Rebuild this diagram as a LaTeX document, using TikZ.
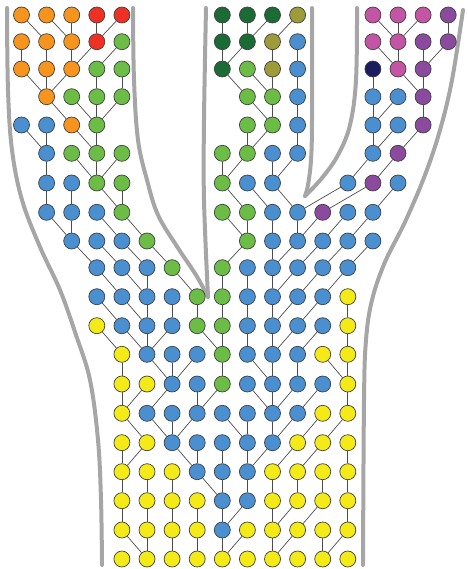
\documentclass[tikz,border=0pt]{standalone}
\usepackage{tikz}
\definecolor{orng}{HTML}{F7941E}
\definecolor{rd}{HTML}{EE3124}
\definecolor{lgrn}{HTML}{6BBD45}
\definecolor{dgrn}{HTML}{1B6B35}
\definecolor{olv}{HTML}{9D9B3A}
\definecolor{blu}{HTML}{4A8FCF}
\definecolor{ylw}{HTML}{F4EA18}
\definecolor{pnk}{HTML}{C455A4}
\definecolor{prp}{HTML}{8B4A9E}
\definecolor{nvy}{HTML}{1C1D5E}
\tikzset{
  indiv/.style={circle, draw=black!75, line width=0.7pt, minimum size=16pt, inner sep=0pt},
  descent/.style={draw=black!70, line width=0.7pt},
  popwall/.style={draw=black!35, line width=4pt, line cap=round},
}
%% row / y / {column/colour/parent column in next row}
\newcommand{\genealogy}{
  0/15/{0/orng/1,1/orng/2,2/orng/2,3/rd/3,4/rd/3,8/dgrn/8,9/dgrn/9,10/dgrn/9,11/olv/10,14/pnk/15,15/pnk/15,16/pnk/15,17/prp/17},
  1/41.7/{0/orng/0,1/orng/1,2/orng/2,3/rd/2,4/lgrn/3,8/dgrn/8,9/dgrn/8,10/olv/10,11/blu/11,14/pnk/15,15/pnk/15,16/prp/16,17/prp/16},
  2/69/{0/orng/1,1/orng/1,2/orng/1,3/lgrn/3,4/lgrn/4,8/dgrn/9,9/lgrn/10,10/olv/10,11/blu/11,14/nvy/14,15/pnk/16,16/prp/16},
  3/96.7/{1/orng/2,2/lgrn/3,3/lgrn/3,4/lgrn/3,9/lgrn/10,10/lgrn/10,11/blu/11,14/blu/14,15/blu/14,16/prp/16},
  4/125/{0/blu/1,1/blu/1,2/orng/3,3/lgrn/3,9/lgrn/9,10/lgrn/9,11/blu/11,14/blu/14,15/blu/14,16/prp/15},
  5/153.3/{1/blu/1,2/lgrn/3,3/lgrn/3,4/lgrn/3,8/lgrn/8,9/lgrn/8,10/blu/10,11/blu/10,14/blu/13,15/prp/14},
  6/183/{1/blu/1,2/blu/2,3/lgrn/4,4/lgrn/4,8/lgrn/9,9/blu/10,10/blu/11,13/blu/11,14/prp/12,15/blu/14},
  7/212.3/{1/blu/2,2/blu/2,3/blu/4,4/lgrn/5,8/lgrn/9,9/lgrn/9,10/blu/10,11/blu/11,12/prp/11,13/blu/12,14/blu/13},
  8/241/{2/blu/3,3/blu/4,4/blu/5,5/lgrn/6,9/lgrn/8,10/blu/10,11/blu/10,12/blu/11,13/blu/12,14/blu/13},
  9/267.7/{3/blu/4,4/blu/5,5/blu/5,6/lgrn/7,8/lgrn/8,9/blu/9,10/blu/10,11/blu/10,12/blu/11,13/blu/12},
  10/296.7/{3/blu/4,4/blu/5,5/blu/5,6/blu/6,7/lgrn/7,8/lgrn/8,9/blu/9,10/blu/10,11/blu/10,12/blu/11,13/ylw/13},
  11/325.7/{3/ylw/4,4/blu/5,5/blu/5,6/blu/5,7/lgrn/8,8/lgrn/8,9/blu/9,10/blu/10,11/blu/10,12/blu/11,13/ylw/13},
  12/354.3/{4/ylw/4,5/blu/6,6/blu/6,7/blu/6,8/lgrn/8,9/blu/10,10/blu/10,11/blu/11,12/ylw/13,13/ylw/13},
  13/384/{4/ylw/4,5/ylw/4,6/blu/5,7/blu/7,8/lgrn/7,9/blu/10,10/blu/10,11/blu/10,12/blu/11,13/ylw/13},
  14/413.3/{4/ylw/5,5/blu/6,6/blu/6,7/blu/6,8/blu/9,9/blu/9,10/blu/10,11/blu/10,12/ylw/11,13/ylw/12},
  15/442.7/{4/ylw/4,5/ylw/4,6/blu/7,7/blu/7,8/blu/8,9/blu/9,10/blu/9,11/ylw/10,12/ylw/11,13/ylw/13},
  16/471.7/{4/ylw/4,5/ylw/5,6/ylw/6,7/blu/8,8/blu/8,9/blu/9,10/ylw/10,11/ylw/11,12/ylw/12,13/ylw/13},
  17/500.7/{4/ylw/4,5/ylw/5,6/ylw/6,7/ylw/7,8/blu/8,9/blu/8,10/ylw/10,11/ylw/10,12/ylw/11,13/ylw/13},
  18/530/{4/ylw/5,5/ylw/5,6/ylw/6,7/ylw/7,8/blu/8,9/ylw/8,10/ylw/10,11/ylw/10,12/ylw/12,13/ylw/12},
  19/559/{4/ylw/-1,5/ylw/-1,6/ylw/-1,7/ylw/-1,8/ylw/-1,9/ylw/-1,10/ylw/-1,11/ylw/-1,12/ylw/-1,13/ylw/-1}}

\begin{document}
\begin{tikzpicture}[x=1pt,y=-1pt]
  \useasboundingbox (0,0) rectangle (467,569);

  %% ---- population walls ----
  \draw[popwall] plot[smooth,tension=0.6] coordinates
    {(7,8) (8,90) (12,150) (22,200) (40,247) (60,290) (76,335) (90,380) (98,440) (101,500) (102,565)};
  \draw[popwall] plot[smooth,tension=0.6] coordinates
    {(133,8) (134,80) (138,140) (147,180) (158,215) (178,248) (196,275) (208,297)};
  \draw[popwall] plot[smooth,tension=0.6] coordinates
    {(206,8) (204,120) (204,200) (208,297)};
  \draw[popwall] plot[smooth,tension=0.6] coordinates
    {(312,8) (312,120) (311,160) (308,185) (305,196)};
  \draw[popwall] plot[smooth,tension=0.6] coordinates
    {(357,8) (356,80) (350,125) (338,155) (322,178) (305,196)};
  \draw[popwall] plot[smooth,tension=0.6] coordinates
    {(463,10) (452,80) (440,130) (425,175) (405,222) (385,262) (372,300) (366,340) (364,400) (363,565)};

  %% ---- individuals ----
  \foreach \r/\y/\row in \genealogy {
    \foreach \c/\col/\p in \row
      \node[indiv, fill=\col] (n-\r-\c) at ({21.5+25.1*\c},\y) {};
  }

  %% ---- lines of descent ----
  \foreach \r/\y/\row in \genealogy {
    \foreach \c/\col/\p in \row {
      \ifnum\p>-1
        \pgfmathtruncatemacro{\rr}{\r+1}
        \draw[descent] (n-\r-\c) -- (n-\rr-\p);
      \fi
    }
  }
\end{tikzpicture}
\end{document}
